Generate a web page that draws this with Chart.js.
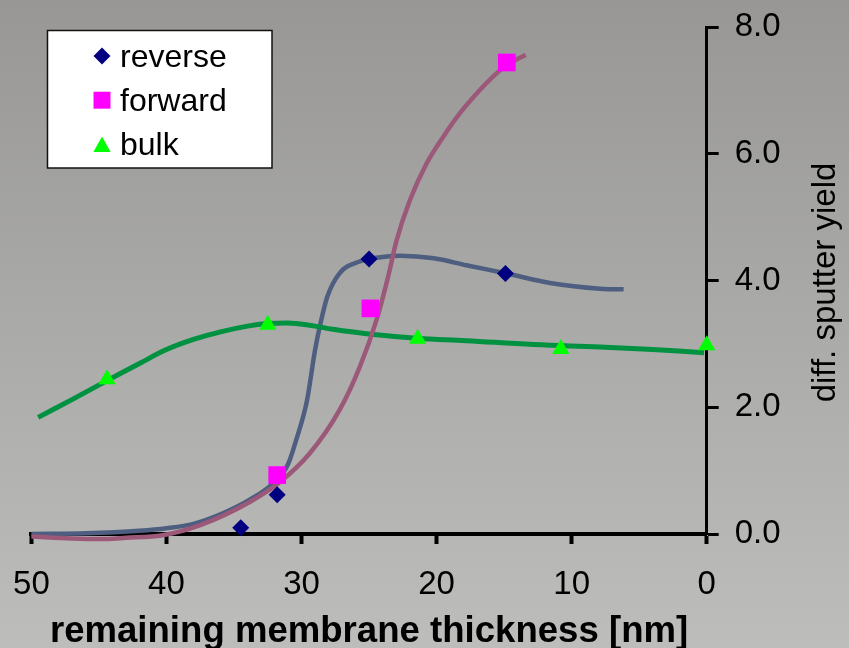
<!DOCTYPE html>
<html>
<head>
<meta charset="utf-8">
<script src="https://cdn.jsdelivr.net/npm/chart.js"></script>
<style>
  html, body { margin: 0; padding: 0; background: #a9a9a8; }
  #wrap { width: 849px; height: 648px; background: linear-gradient(to bottom, #989795 0%, #aaaaa9 50%, #bdbdbc 100%); }
  canvas { display: block; }
</style>
</head>
<body>
<div id="wrap"><canvas id="c" width="849" height="648"></canvas></div>
<script>
// ---- data ----
const seriesNames = ['reverse', 'forward', 'bulk'];

const reverseX = [34.5, 31.8, 25.0, 14.9];
const reverseY = [0.10, 0.62, 4.34, 4.11];

const forwardX = [31.8, 24.9, 14.8];
const forwardY = [0.93, 3.56, 7.44];

const bulkX = [44.4, 32.5, 21.4, 10.8, 0.0];
const bulkY = [2.44, 3.30, 3.08, 2.92, 2.98];

// smooth trend curves drawn in the reference
const reverseFitX = [50, 46, 42, 40, 38, 36, 34, 32, 31, 30.4, 29.6, 29.0, 28.6, 28.1, 27.2, 25.7, 24, 22.7, 20.2, 17.8, 14.8, 11.6, 7.9, 6.15];
const reverseFitY = [0.0, 0.01, 0.05, 0.09, 0.16, 0.31, 0.52, 0.82, 1.1, 1.48, 2.1, 2.9, 3.32, 3.74, 4.11, 4.3, 4.37, 4.39, 4.35, 4.24, 4.11, 3.96, 3.87, 3.86];

const forwardFitX = [50, 47, 45, 43, 40.3, 37.5, 33.8, 31.6, 29.4, 27.2, 25.7, 24.4, 23.6, 22.95, 21.97, 20.73, 19.5, 18.27, 17.03, 15.8, 14.81, 13.4];
const forwardFitY = [-0.04, -0.07, -0.08, -0.06, -0.02, 0.14, 0.51, 0.82, 1.27, 1.95, 2.63, 3.41, 4.05, 4.64, 5.27, 5.85, 6.27, 6.64, 6.95, 7.22, 7.40, 7.56];

const bulkFitX = [49.5, 47, 44.4, 42, 40, 38, 36, 34, 32.5, 31, 30.4, 29, 27.7, 25.2, 21.5, 17.8, 12.8, 7.9, 4, 0.2];
const bulkFitY = [1.84, 2.12, 2.42, 2.69, 2.91, 3.07, 3.19, 3.28, 3.32, 3.33, 3.32, 3.28, 3.23, 3.16, 3.09, 3.05, 2.99, 2.95, 2.91, 2.86];

const xTickValues = [50, 40, 30, 20, 10, 0];
const yTickValues = [0, 2, 4, 6, 8];
const xTitle = 'remaining membrane thickness [nm]';
const yTitle = 'diff. sputter yield';

// ---- helpers ----
const pts = (xs, ys) => xs.map((x, i) => ({ x: x, y: ys[i] }));
const FONT = "'Liberation Sans', Arial, Helvetica, sans-serif";

function drawMarker(ctx, style, x, y, r, color) {
  ctx.fillStyle = color;
  ctx.beginPath();
  if (style === 'rectRot') {
    ctx.moveTo(x, y - r); ctx.lineTo(x + r, y); ctx.lineTo(x, y + r); ctx.lineTo(x - r, y);
  } else if (style === 'rect') {
    const s = Math.SQRT1_2 * r;
    ctx.rect(x - s, y - s, 2 * s, 2 * s);
  } else if (style === 'triangle') {
    const h = r * 0.8;
    ctx.moveTo(x, y - h); ctx.lineTo(x + r * 0.86, y + h * 0.95); ctx.lineTo(x - r * 0.86, y + h * 0.95);
  }
  ctx.closePath();
  ctx.fill();
}

const legendPlugin = {
  id: 'boxLegend',
  afterDraw(chart, args, o) {
    const ctx = chart.ctx;
    ctx.save();
    ctx.fillStyle = '#ffffff';
    ctx.fillRect(o.left, o.top, o.width, o.height);
    ctx.lineWidth = 1.5;
    ctx.strokeStyle = '#111';
    ctx.strokeRect(o.left, o.top, o.width, o.height);
    ctx.font = o.fontSize + 'px ' + FONT;
    ctx.textBaseline = 'alphabetic';
    ctx.textAlign = 'left';
    chart.data.datasets.slice(0, 3).forEach((ds, i) => {
      const base = o.firstBaseline + i * o.rowGap;
      drawMarker(ctx, ds.pointStyle, o.markerX, base - 10.5, o.markerR[i], ds.pointBackgroundColor);
      ctx.fillStyle = '#000';
      ctx.fillText(ds.label, o.textX, base);
    });
    ctx.restore();
  }
};

const yTitlePlugin = {
  id: 'yTitleUp',
  afterDraw(chart, args, o) {
    const ctx = chart.ctx;
    const area = chart.chartArea;
    ctx.save();
    ctx.translate(o.baselineX, (area.top + area.bottom) / 2 + 2);
    ctx.rotate(-Math.PI / 2);
    ctx.font = o.fontSize + 'px ' + FONT;
    ctx.fillStyle = '#000';
    ctx.textAlign = 'center';
    ctx.textBaseline = 'alphabetic';
    ctx.fillText(o.text, 0, 0);
    ctx.restore();
  }
};

const noOverflow = s => { s.paddingLeft = 0; s.paddingRight = 0; s.paddingTop = 0; s.paddingBottom = 0; };

const ctx = document.getElementById('c').getContext('2d');
new Chart(ctx, {
  type: 'scatter',
  data: {
    datasets: [
      { label: seriesNames[0], data: pts(reverseX, reverseY), pointStyle: 'rectRot', pointRadius: 8.5,
        pointBackgroundColor: '#000080', pointBorderColor: '#000080', pointBorderWidth: 0, showLine: false, clip: false },
      { label: seriesNames[1], data: pts(forwardX, forwardY), pointStyle: 'rect', pointRadius: 12.5,
        pointBackgroundColor: '#ff00ff', pointBorderColor: '#ff00ff', pointBorderWidth: 0, showLine: false, clip: false },
      { label: seriesNames[2], data: pts(bulkX, bulkY), pointStyle: 'triangle', pointRadius: 10,
        pointBackgroundColor: '#00ff00', pointBorderColor: '#00ff00', pointBorderWidth: 0, showLine: false, clip: false },
      { label: 'forward trend', data: pts(forwardFitX, forwardFitY), showLine: true, pointRadius: 0,
        borderColor: 'rgb(155,88,120)', borderWidth: 4.5, cubicInterpolationMode: 'monotone', clip: false },
      { label: 'bulk trend', data: pts(bulkFitX, bulkFitY), showLine: true, pointRadius: 0,
        borderColor: 'rgb(0,146,64)', borderWidth: 5, tension: 0.4, clip: false },
      { label: 'reverse trend', data: pts(reverseFitX, reverseFitY), showLine: true, pointRadius: 0,
        borderColor: 'rgb(78,94,128)', borderWidth: 4.5, cubicInterpolationMode: 'monotone', clip: false }
    ]
  },
  options: {
    responsive: false,
    animation: false,
    devicePixelRatio: 1,
    events: [],
    layout: { padding: { left: 31.4, top: 27, right: 0, bottom: 0 } },
    plugins: {
      legend: { display: false },
      tooltip: { enabled: false },
      boxLegend: { left: 47.5, top: 30.5, width: 224.5, height: 137.5, markerX: 102, textX: 120,
                   firstBaseline: 66.5, rowGap: 44.2, fontSize: 32, markerR: [8.5, 12, 10] },
      yTitleUp: { text: yTitle, fontSize: 33, baselineX: 835 }
    },
    scales: {
      x: {
        type: 'linear', position: 'bottom', reverse: true, min: 0, max: 50,
        afterBuildTicks: s => { s.ticks = xTickValues.map(v => ({ value: v })); },
        afterFit: s => { s.height = 114; noOverflow(s); },
        ticks: { color: '#000', font: { family: FONT, size: 33 }, padding: 21, maxRotation: 0, autoSkip: false },
        grid: { drawOnChartArea: false, drawTicks: true, tickLength: 10, tickWidth: 4, tickColor: '#000' },
        border: { display: true, color: '#000', width: 4 },
        title: { display: true, text: xTitle, color: '#000', font: { family: FONT, size: 36.6, weight: 'bold' }, padding: { top: 0, bottom: -6 } }
      },
      y: {
        type: 'linear', position: 'right', min: 0, max: 8,
        afterBuildTicks: s => { s.ticks = yTickValues.map(v => ({ value: v })); },
        afterFit: s => { s.width = 142.3; noOverflow(s); },
        ticks: { color: '#000', font: { family: FONT, size: 33 }, padding: 16, callback: v => Number(v).toFixed(1) },
        grid: { drawOnChartArea: false, drawTicks: true, tickLength: 12, tickWidth: 3, tickColor: '#000' },
        border: { display: true, color: '#000', width: 3 },
        title: { display: false }
      }
    }
  },
  plugins: [legendPlugin, yTitlePlugin]
});
</script>
</body>
</html>
